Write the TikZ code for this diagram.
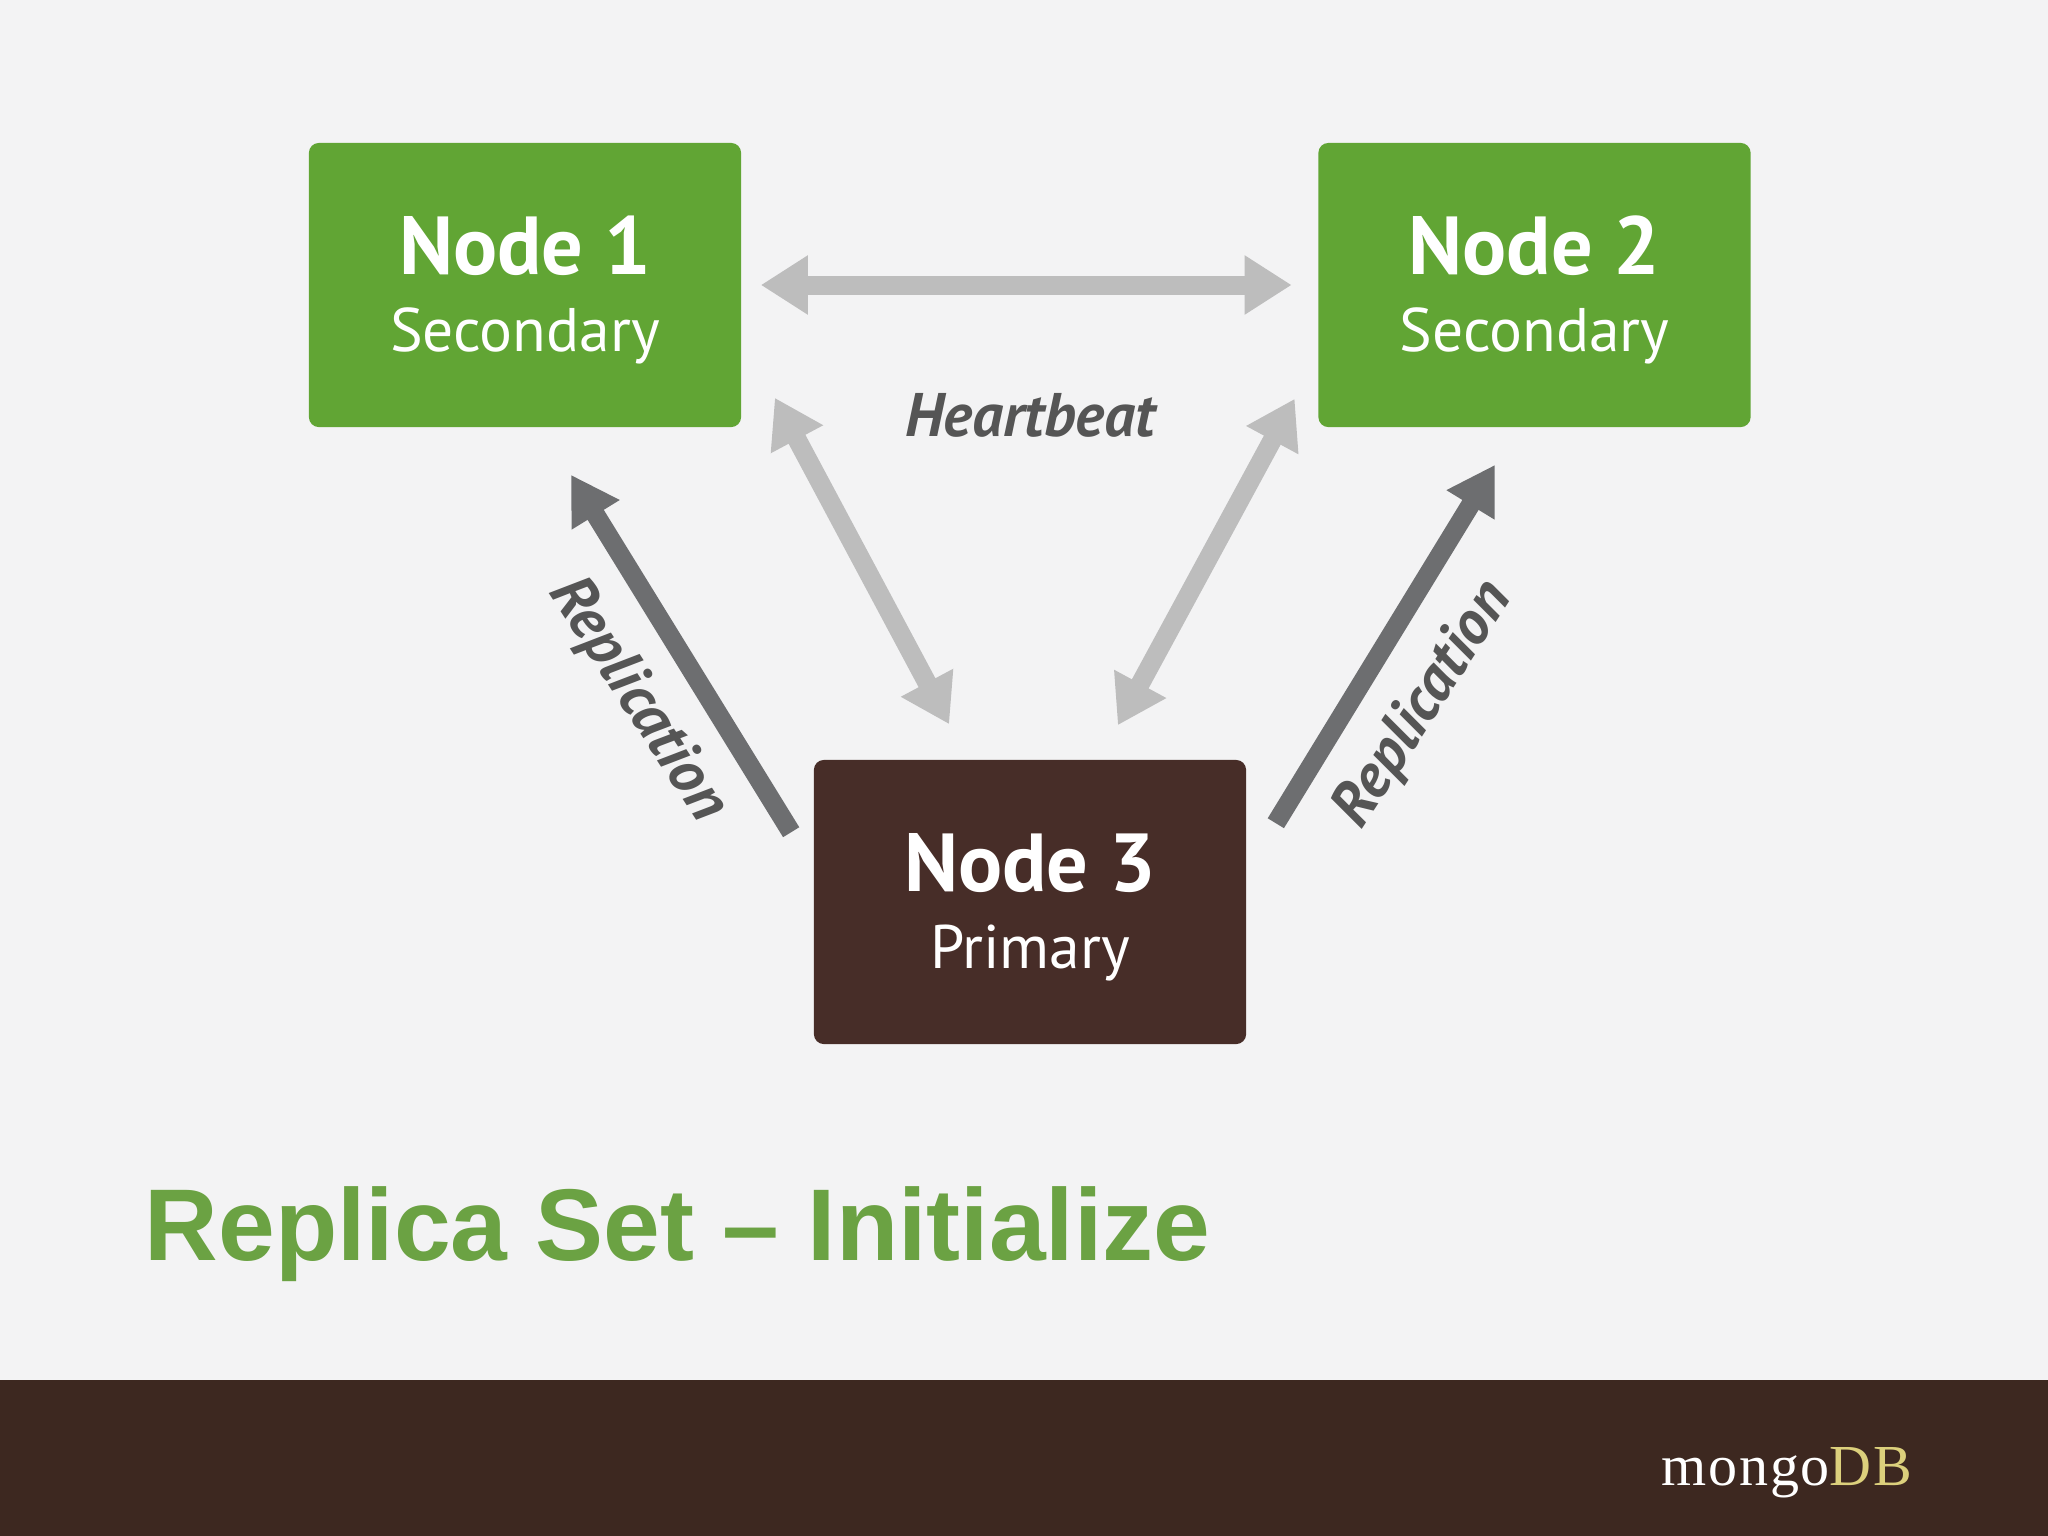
\documentclass[tikz,border=0pt]{standalone}
\usepackage{fontspec}
\setmainfont{PT Sans}
\newfontfamily\titlefont{Liberation Sans}
\newfontfamily\logofont[LetterSpace=3]{Liberation Serif}
\usetikzlibrary{arrows.meta}
\definecolor{pagebg}{HTML}{F3F3F4}
\definecolor{footerbrown}{HTML}{3D2820}
\definecolor{nodegreen}{HTML}{61A534}
\definecolor{nodebrown}{HTML}{472D28}
\definecolor{heartgray}{HTML}{BDBDBD}
\definecolor{replgray}{HTML}{6D6E70}
\definecolor{labelgray}{HTML}{555555}
\definecolor{titlegreen}{HTML}{6BA243}
\definecolor{logogold}{HTML}{DCD07C}
\tikzset{
  nodebox/.style={rounded corners=0.1cm, minimum width=4.32cm, minimum height=2.84cm,
    text=white, align=center, inner sep=0pt},
  heartboth/.style={draw=heartgray, line width=0.19cm,
    {Triangle[length=0.47cm,width=0.56cm]}-{Triangle[length=0.47cm,width=0.56cm]}},
  replarrow/.style={draw=replgray, line width=0.19cm, -{Triangle[length=0.47cm,width=0.53cm]}},
  linklabel/.style={text=labelgray, font=\fontsize{17.5}{20}\selectfont\bfseries\itshape, inner sep=0pt}
}
\begin{document}
\begin{tikzpicture}[x=0.01cm, y=-0.01cm]
        % Page
        \fill[pagebg] (0,0) rectangle (2048,1536);
        \fill[footerbrown] (0,1380) rectangle (2048,1536);

        % Nodes
        \foreach \p/\x/\y/\col/\num/\role in {node1/525/285/nodegreen/1/Secondary, node2/1534.5/285/nodegreen/2/Secondary, node3/1030/902/nodebrown/3/Primary}
            \node[nodebox, fill=\col] (\p) at (\x,\y) {\fontsize{23.4}{21.6}\selectfont\bfseries\rule{0pt}{0.69cm}Node \num\\[0.29cm] \fontsize{17.5}{21.6}\selectfont\mdseries \role};

        % Heartbeat edges
        \draw[heartboth] ([shift={(19,0)}]node1.east) -- ([shift={(-26,0)}]node2.west);
        \draw[heartboth] ([shift={(33,-30)}]node1.south east) -- ([shift={(136,-35)}]node3.north west);
        \draw[heartboth] ([shift={(-23,-29)}]node2.south west) -- ([shift={(-129,-34)}]node3.north east);

        % Replication edges
        \draw[replarrow] ([shift={(-22,73)}]node3.north west) -- ([shift={(46,47)}]node1.south);
        \draw[replarrow] ([shift={(29,64)}]node3.north east) -- ([shift={(-39.5,37)}]node2.south);

        % Edge labels
        \node[linklabel] (heartbeat) at (1030,415) {Heartbeat};
        \node[linklabel, rotate=-57] (repl1) at (637,700) {Replication};
        \node[linklabel, rotate=57] (repl2) at (1424,705) {Replication};

        % Title and logo
        \node[anchor=base west, inner sep=0pt, text=titlegreen, font=\titlefont\bfseries\fontsize{29}{32}\selectfont] (title) at (144,1260) {Replica Set – Initialize};
        \node[anchor=base east, inner sep=0pt, font=\logofont\fontsize{16.5}{20}\selectfont] (logo) at (1913,1485) {\textcolor{white}{mongo}\textcolor{logogold}{DB}};
    \end{tikzpicture}
\end{document}
